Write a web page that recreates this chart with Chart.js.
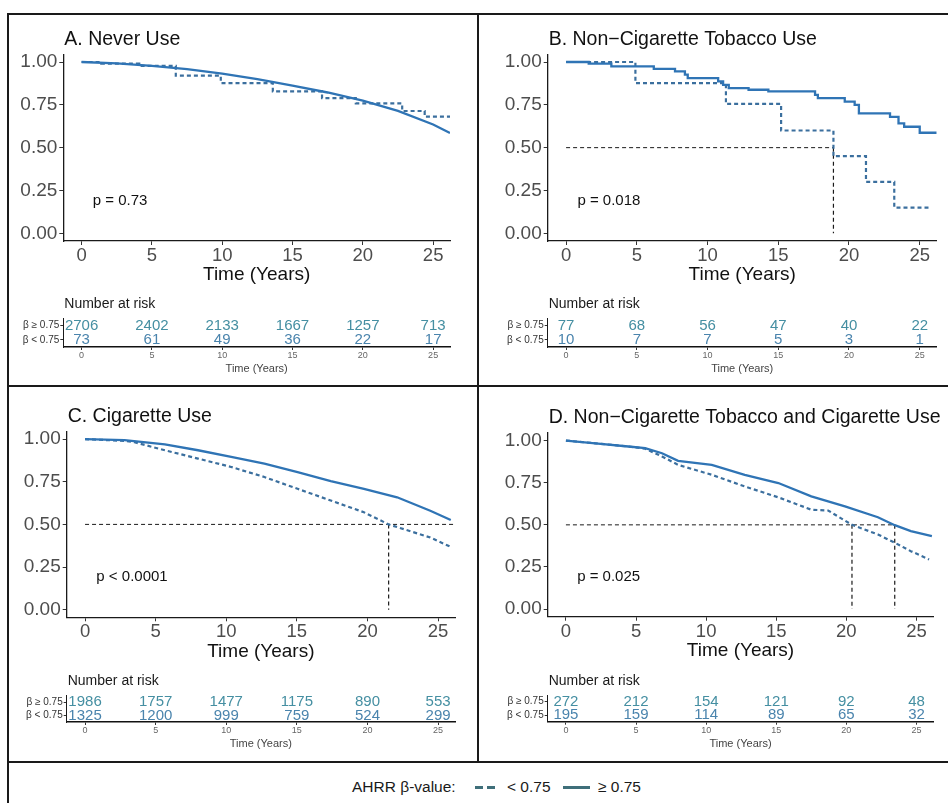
<!DOCTYPE html>
<html>
<head>
<meta charset="utf-8">
<script src="https://cdn.jsdelivr.net/npm/chart.js@4.4.1/dist/chart.umd.min.js"></script>
<style>
body{margin:0;background:#fff;font-family:"Liberation Sans",Arial,sans-serif}
#page{position:relative;width:948px;height:803px;overflow:hidden;background:#fff}
canvas{position:absolute}
.rule{position:absolute;background:#1a1a1a}
.lg{position:absolute;font-size:15.5px;color:#1a1a1a;line-height:18px;white-space:nowrap}
.sw{position:absolute;height:3px}
</style>
</head>
<body>
<div id="page">
  <div class="rule" style="left:8px;top:13px;width:940px;height:2px"></div>
  <div class="rule" style="left:7px;top:13px;width:2px;height:790px"></div>
  <div class="rule" style="left:477px;top:13px;width:2px;height:750px"></div>
  <div class="rule" style="left:8px;top:385px;width:940px;height:2px"></div>
  <div class="rule" style="left:8px;top:761px;width:940px;height:2px"></div>

  <div class="lg" style="left:352px;top:778px">AHRR β-value:</div>
  <div class="sw" style="left:475px;top:786px;width:22px;background:repeating-linear-gradient(to right,#3f6f7a 0 8px,transparent 8px 12px)"></div>
  <div class="lg" style="left:507px;top:778px">&lt; 0.75</div>
  <div class="sw" style="left:563px;top:786px;width:27px;background:#3f6f7a"></div>
  <div class="lg" style="left:598px;top:778px">≥ 0.75</div>
</div>
<script>
Chart.defaults.font.family = '"Liberation Sans", Arial, sans-serif';

// shared axes / labels
var xTicks = [0, 5, 10, 15, 20, 25];
var yTicks = [0, 0.25, 0.5, 0.75, 1];
var riskTimes = [0, 5, 10, 15, 20, 25];
var groupLabels = ['β ≥ 0.75', 'β < 0.75'];
var titles = ['A. Never Use', 'B. Non−Cigarette Tobacco Use', 'C. Cigarette Use',
  'D. Non−Cigarette Tobacco and Cigarette Use'];
var pValues = ['p = 0.73', 'p = 0.018', 'p < 0.0001', 'p = 0.025'];

// A. Never Use
var aTimeHi = [0, 2.5, 5, 7.5, 10, 12.5, 15, 17.5, 20, 22.5, 25, 26.2];
var aSurvHi = [1.0, 0.992, 0.978, 0.958, 0.932, 0.90, 0.862, 0.822, 0.775, 0.715, 0.635, 0.585];
var aTimeLo = [0, 1.4, 4.1, 6.7, 9.9, 13.6, 17.1, 19.5, 22.8, 24.4, 26.2];
var aSurvLo = [1.0, 0.99, 0.977, 0.92, 0.877, 0.828, 0.789, 0.759, 0.714, 0.681, 0.681];
var aRiskHi = [2706, 2402, 2133, 1667, 1257, 713];
var aRiskLo = [73, 61, 49, 36, 22, 17];
var aMedians = [];

// B. Non-cigarette tobacco use
var bTimeHi = [0, 1.6, 3.2, 6.2, 7.7, 8.4, 8.6, 10.75, 11.1, 11.5, 12.9, 14.3, 17.6, 17.8,
  19.7, 20.4, 20.7, 22.9, 23.5, 23.9, 25.0, 26.2];
var bSurvHi = [1.0, 0.99, 0.974, 0.96, 0.945, 0.926, 0.906, 0.887, 0.867, 0.847, 0.838, 0.828,
  0.808, 0.789, 0.769, 0.75, 0.70, 0.68, 0.642, 0.622, 0.587, 0.587];
var bTimeLo = [0, 4.9, 11.3, 15.2, 18.9, 21.2, 23.2, 25.8];
var bSurvLo = [1.0, 0.877, 0.755, 0.60, 0.45, 0.30, 0.15, 0.15];
var bRiskHi = [77, 68, 56, 47, 40, 22];
var bRiskLo = [10, 7, 7, 5, 3, 1];
var bMedians = [18.9];

// C. Cigarette use
var cTimeHi = [0, 2.8, 5.65, 8.0, 10.35, 12.7, 15.05, 17.4, 19.75, 22.1, 24.45, 25.9];
var cSurvHi = [1.0, 0.994, 0.97, 0.935, 0.896, 0.856, 0.807, 0.754, 0.709, 0.659, 0.58, 0.526];
var cTimeLo = [0, 2.8, 3.5, 5.65, 8.0, 10.35, 12.7, 15.05, 17.4, 19.75, 21.5, 24.45, 25.9];
var cSurvLo = [1.0, 0.99, 0.982, 0.935, 0.886, 0.837, 0.778, 0.709, 0.64, 0.571, 0.50, 0.423, 0.368];
var cRiskHi = [1986, 1757, 1477, 1175, 890, 553];
var cRiskLo = [1325, 1200, 999, 759, 524, 299];
var cMedians = [21.5];

// D. Non-cigarette tobacco and cigarette use
var dTimeHi = [0, 2.1, 4.45, 5.65, 6.85, 8.0, 10.4, 12.75, 15.15, 17.5, 19.9, 22.25, 23.45, 24.6, 26.1];
var dSurvHi = [1.0, 0.984, 0.965, 0.955, 0.925, 0.88, 0.856, 0.797, 0.748, 0.669, 0.61, 0.545,
  0.498, 0.463, 0.433];
var dTimeLo = [0, 2.1, 4.45, 5.65, 6.85, 8.0, 10.4, 12.75, 15.15, 17.5, 18.7, 20.4, 22.25, 23.45, 24.6, 25.9];
var dSurvLo = [1.0, 0.984, 0.965, 0.952, 0.906, 0.856, 0.797, 0.728, 0.663, 0.59, 0.585, 0.50,
  0.443, 0.394, 0.344, 0.295];
var dRiskHi = [272, 212, 154, 121, 92, 48];
var dRiskLo = [195, 159, 114, 89, 65, 32];
var dMedians = [20.4, 23.45];

var xMin = -1.3, xMax = 26.2;
var solidColor = '#2f74b5', dashColor = '#3b6f9e', riskHiColor = '#458fa2', riskLoColor = '#4a84ad';

var panels = [
  {tHi: aTimeHi, sHi: aSurvHi, tLo: aTimeLo, sLo: aSurvLo, stepHi: false, stepLo: true,
   rHi: aRiskHi, rLo: aRiskLo, med: aMedians, medEnd: 0,
   main: {x: 8, y: 16, w: 470, h: 300}, area: {L: 63.3, R: 450, T: 54.3, B: 241},
   risk: {x: 8, y: 290, w: 470, h: 94}, rArea: {L: 63.3, R: 450, T: 318.5, B: 347}},
  {tHi: bTimeHi, sHi: bSurvHi, tLo: bTimeLo, sLo: bSurvLo, stepHi: true, stepLo: true,
   rHi: bRiskHi, rLo: bRiskLo, med: bMedians, medEnd: 18.9,
   main: {x: 478, y: 16, w: 470, h: 300}, area: {L: 547.7, R: 936.7, T: 54.3, B: 241},
   risk: {x: 478, y: 290, w: 470, h: 94}, rArea: {L: 547.7, R: 936.7, T: 318.5, B: 347}},
  {tHi: cTimeHi, sHi: cSurvHi, tLo: cTimeLo, sLo: cSurvLo, stepHi: false, stepLo: false,
   rHi: cRiskHi, rLo: cRiskLo, med: cMedians, medEnd: xMax,
   main: {x: 8, y: 388, w: 470, h: 300}, area: {L: 66.7, R: 455, T: 431.5, B: 617.3},
   risk: {x: 8, y: 662, w: 470, h: 98}, rArea: {L: 66.7, R: 455, T: 695.5, B: 722}},
  {tHi: dTimeHi, sHi: dSurvHi, tLo: dTimeLo, sLo: dSurvLo, stepHi: false, stepLo: false,
   rHi: dRiskHi, rLo: dRiskLo, med: dMedians, medEnd: 23.45,
   main: {x: 478, y: 388, w: 470, h: 300}, area: {L: 547.7, R: 933.3, T: 433, B: 616.7},
   risk: {x: 478, y: 662, w: 470, h: 98}, rArea: {L: 547.7, R: 933.3, T: 695, B: 721.7}}
];

function addCanvas(r) {
  var cv = document.createElement('canvas');
  cv.width = r.w; cv.height = r.h;
  cv.style.left = r.x + 'px'; cv.style.top = r.y + 'px';
  cv.style.width = r.w + 'px'; cv.style.height = r.h + 'px';
  document.getElementById('page').appendChild(cv);
  return cv;
}

function pad(r, a, yW, xH) {
  return {left: a.L - r.x - yW, right: r.x + r.w - a.R, top: a.T - r.y, bottom: r.y + r.h - a.B - xH};
}

function pts(ts, ss) {
  return ts.map(function (t, i) { return {x: t, y: ss[i]}; });
}

function setTicks(list) {
  return function (s) { s.ticks = list.map(function (v) { return {value: v}; }); };
}

function makeMain(p, k) {
  var yW = 50, xH = 45.5;
  var ds = [
    {data: pts(p.tHi, p.sHi), borderColor: solidColor, borderWidth: 2.3, stepped: p.stepHi},
    {data: pts(p.tLo, p.sLo), borderColor: dashColor, borderWidth: 2.2, borderDash: [4, 3], stepped: p.stepLo}
  ];
  if (p.med.length) {
    ds.push({data: [{x: 0, y: 0.5}, {x: p.medEnd, y: 0.5}], borderColor: '#1a1a1a', borderWidth: 1, borderDash: [4, 3]});
    p.med.forEach(function (m) {
      ds.push({data: [{x: m, y: 0.5}, {x: m, y: 0}], borderColor: '#1a1a1a', borderWidth: 1.2, borderDash: [4, 3]});
    });
  }
  ds.forEach(function (d) { d.showLine = true; d.pointRadius = 0; d.fill = false; });

  new Chart(addCanvas(p.main), {
    type: 'scatter',
    data: {datasets: ds},
    options: {
      responsive: false, animation: false,
      layout: {padding: pad(p.main, p.area, yW, xH)},
      plugins: {legend: {display: false}, tooltip: {enabled: false}},
      scales: {
        x: {
          type: 'linear', min: xMin, max: xMax,
          afterBuildTicks: setTicks(xTicks),
          afterFit: function (s) { s.height = xH; },
          grid: {drawOnChartArea: false, tickLength: 4, color: '#333'},
          border: {color: '#1a1a1a', width: 1.3},
          ticks: {font: {size: 18.5}, color: '#4d4d4d', padding: 0},
          title: {display: true, text: 'Time (Years)', font: {size: 19}, color: '#111', padding: 0}
        },
        y: {
          type: 'linear', min: -0.045, max: 1.045,
          afterBuildTicks: setTicks(yTicks),
          afterFit: function (s) { s.width = yW; },
          grid: {drawOnChartArea: false, tickLength: 4, color: '#333'},
          border: {color: '#1a1a1a', width: 1.3},
          ticks: {font: {size: 19}, color: '#4d4d4d', padding: 2,
            callback: function (v) { return v.toFixed(2); }}
        }
      }
    },
    plugins: [{
      id: 'panelText',
      afterDraw: function (chart) {
        var c = chart.ctx, a = chart.chartArea;
        c.save();
        c.fillStyle = '#111';
        c.textBaseline = 'middle';
        c.textAlign = 'left';
        c.font = '19.5px "Liberation Sans", Arial, sans-serif';
        c.fillText(titles[k], a.left + 1, a.top - 15);
        c.font = '15px "Liberation Sans", Arial, sans-serif';
        c.fillText(pValues[k], chart.scales.x.getPixelForValue(0.8), chart.scales.y.getPixelForValue(0.19));
        c.restore();
      }
    }]
  });
}

function makeRisk(p, k) {
  var yW = 50, xH = 29;
  var counts = [p.rHi, p.rLo];
  var colors = [riskHiColor, riskLoColor];
  var ds = groupLabels.map(function (g) {
    return {data: riskTimes.map(function (t) { return {x: t, y: g}; }), pointRadius: 0, showLine: false};
  });

  new Chart(addCanvas(p.risk), {
    type: 'scatter',
    data: {datasets: ds},
    options: {
      responsive: false, animation: false,
      layout: {padding: pad(p.risk, p.rArea, yW, xH)},
      plugins: {legend: {display: false}, tooltip: {enabled: false}},
      scales: {
        x: {
          type: 'linear', min: xMin, max: xMax,
          afterBuildTicks: setTicks(riskTimes),
          afterFit: function (s) { s.height = xH; },
          grid: {drawOnChartArea: false, tickLength: 3, color: '#333'},
          border: {color: '#111', width: 1.6},
          ticks: {font: {size: 9}, color: '#666', padding: 0},
          title: {display: true, text: 'Time (Years)', font: {size: 11}, color: '#444', padding: 0}
        },
        y: {
          type: 'category', labels: groupLabels, offset: true,
          afterFit: function (s) { s.width = yW; },
          grid: {drawOnChartArea: false, tickLength: 3, color: '#333'},
          border: {color: '#1a1a1a', width: 1},
          ticks: {font: {size: 10}, color: '#333', padding: 1, autoSkip: false}
        }
      }
    },
    plugins: [{
      id: 'riskText',
      afterDraw: function (chart) {
        var c = chart.ctx, a = chart.chartArea;
        c.save();
        c.textBaseline = 'middle';
        c.fillStyle = '#1a1a1a';
        c.textAlign = 'left';
        c.font = '14px "Liberation Sans", Arial, sans-serif';
        c.fillText('Number at risk', a.left + 1, a.top - 14);
        c.textAlign = 'center';
        c.font = '15px "Liberation Sans", Arial, sans-serif';
        chart.data.datasets.forEach(function (d, di) {
          c.fillStyle = colors[di];
          chart.getDatasetMeta(di).data.forEach(function (el, i) {
            c.fillText(String(counts[di][i]), el.x, el.y);
          });
        });
        c.restore();
      }
    }]
  });
}

panels.forEach(function (p, k) {
  makeMain(p, k);
  makeRisk(p, k);
});
</script>
</body>
</html>
